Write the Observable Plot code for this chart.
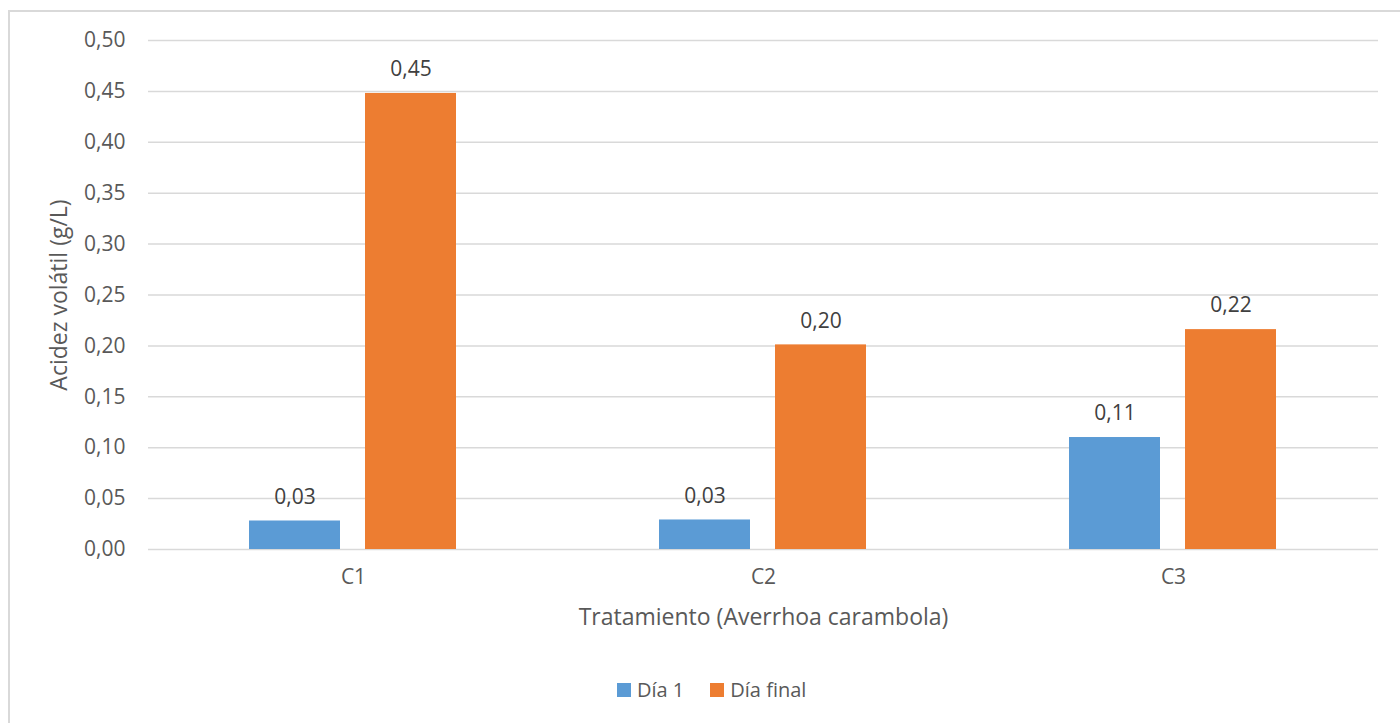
<!DOCTYPE html>
<html>
<head>
<meta charset="utf-8">
<script src="https://cdn.jsdelivr.net/npm/d3@7"></script>
<script src="https://cdn.jsdelivr.net/npm/@observablehq/plot@0.6"></script>
<style>
  html, body { margin: 0; padding: 0; background: #fff; overflow: hidden; }
  body { width: 1400px; height: 723px; position: relative; font-family: "Open Sans", sans-serif; }
  #frame { position: absolute; left: 8px; top: 10px; width: 1420px; height: 740px; border: 2px solid #d9d9d9; pointer-events: none; }
  #chart { position: absolute; left: 0; top: 0; }
  #legend { position: absolute; left: 617px; top: 676px; display: flex; align-items: center; font-size: 20px; color: #595959; }
  .sw { width: 14px; height: 14px; display: inline-block; margin-right: 6px; }
  .item { display: flex; align-items: center; margin-right: 26px; }
</style>
</head>
<body>
<div id="chart"></div>
<div id="legend"></div>
<div id="frame"></div>
<script>
const categories = ["C1", "C2", "C3"];
const series = ["Día 1", "Día final"];
const dia1 = [0.028, 0.029, 0.110];
const diaFinal = [0.448, 0.201, 0.216];
const yTicks = [0, 0.05, 0.10, 0.15, 0.20, 0.25, 0.30, 0.35, 0.40, 0.45, 0.50];
const colors = ["#5b9bd5", "#ed7d31"];

const data = categories.flatMap((c, i) => [
  {cat: c, serie: series[0], value: dia1[i]},
  {cat: c, serie: series[1], value: diaFinal[i]}
]);
const fmt = v => v.toFixed(2).replace(".", ",");

const chart = Plot.plot({
  width: 1400,
  height: 660,
  marginLeft: 148,
  marginRight: 22,
  marginTop: 40,
  marginBottom: 111,
  style: {fontFamily: "Open Sans, sans-serif", fontSize: "21px", color: "#595959", background: "transparent", overflow: "visible"},
  fx: {domain: categories, paddingInner: 0, paddingOuter: 0, axis: "bottom", tickSize: 0, tickPadding: 20,
       label: "Tratamiento (Averrhoa carambola)", labelAnchor: "center", labelOffset: 75, labelArrow: "none"},
  x: {domain: series, paddingInner: 0.215, paddingOuter: 0.87, axis: null},
  y: {domain: [0, 0.5], ticks: yTicks, tickFormat: fmt, tickSize: 0, tickPadding: 23,
      label: "Acidez volátil (g/L)", labelAnchor: "center", labelOffset: 98, labelArrow: "none"},
  color: {domain: series, range: colors},
  marks: [
    Plot.ruleY(yTicks, {stroke: "#d9d9d9", strokeWidth: 1.5}),
    Plot.barY(data, {fx: "cat", x: "serie", y: "value", fill: "serie"}),
    Plot.text(data, {fx: "cat", x: "serie", y: "value", text: d => fmt(d.value), dy: -24, fill: "#404040", fontSize: 21})
  ]
});
chart.querySelectorAll("[aria-label='fx-axis label'] text, [aria-label='y-axis label'] text").forEach(t => t.style.fontSize = "23px");
document.getElementById("chart").appendChild(chart);

const legend = document.getElementById("legend");
series.forEach((s, i) => {
  const item = document.createElement("div");
  item.className = "item";
  const sw = document.createElement("span");
  sw.className = "sw";
  sw.style.background = colors[i];
  item.appendChild(sw);
  item.appendChild(document.createTextNode(s));
  legend.appendChild(item);
});
</script>
</body>
</html>
